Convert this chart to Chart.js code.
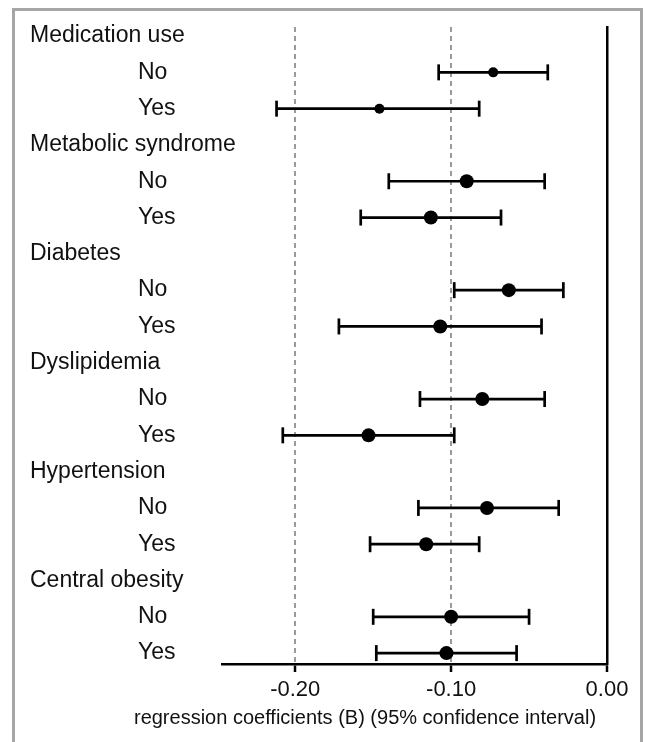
<!DOCTYPE html>
<html>
<head>
<meta charset="utf-8">
<script src="https://cdn.jsdelivr.net/npm/chart.js@4"></script>
<style>
  body { margin: 0; background: #fff; }
  #frame { position: absolute; left: 12px; top: 8px; width: 625px; height: 760px; border: 3px solid #a6a6a6; }
  #forest { position: absolute; left: 0; top: 0; }
</style>
</head>
<body>
<div id="frame"></div>
<canvas id="forest" width="647" height="742"></canvas>
<script>
// subgroups, top to bottom
const groups = ['Medication use', 'Metabolic syndrome', 'Diabetes', 'Dyslipidemia', 'Hypertension', 'Central obesity'];
const levels = ['No', 'Yes'];
// regression coefficients (B), one per group x level, in the same order
const coef   = [-0.073, -0.146, -0.090, -0.113, -0.063, -0.107, -0.080, -0.153, -0.077, -0.116, -0.100, -0.103];
const ciLow  = [-0.108, -0.212, -0.140, -0.158, -0.098, -0.172, -0.120, -0.208, -0.121, -0.152, -0.150, -0.148];
const ciHigh = [-0.038, -0.082, -0.040, -0.068, -0.028, -0.042, -0.040, -0.098, -0.031, -0.082, -0.050, -0.058];
const xTicks = [-0.20, -0.10, 0.00];
const xTitle = 'regression coefficients (B) (95% confidence interval)';

// every group takes one header row plus one row per level
const rowLabels = [];
groups.forEach(g => { rowLabels.push(g); levels.forEach(l => rowLabels.push(l)); });
const rowOf = i => Math.floor(i / levels.length) * (levels.length + 1) + 1 + (i % levels.length);

const dots = coef.map((v, i) => ({ x: v, y: rowOf(i) }));
const ciPts = [];
coef.forEach((v, i) => {
    ciPts.push({ x: ciLow[i], y: rowOf(i) }, { x: ciHigh[i], y: rowOf(i) }, { x: null, y: null });
});

const FONT = "'Liberation Sans', Arial, sans-serif";

const labelPlugin = {
    id: 'rowLabels',
    afterDraw(chart) {
        const ctx = chart.ctx, y = chart.scales.y;
        ctx.save();
        ctx.fillStyle = '#111';
        ctx.textBaseline = 'middle';
        ctx.textAlign = 'left';
        ctx.font = '23px ' + FONT;
        rowLabels.forEach((t, r) => {
            const header = r % (levels.length + 1) === 0;
            ctx.fillText(t, header ? 30 : 138, y.getPixelForValue(r));
        });
        ctx.textAlign = 'center';
        ctx.font = '20px ' + FONT;
        ctx.fillText(xTitle, 365, 718);
        ctx.restore();
    }
};

new Chart(document.getElementById('forest'), {
    type: 'scatter',
    data: {
        datasets: [{
            data: dots,
            pointRadius: c => (c.dataIndex < levels.length ? 5 : 7),
            pointBackgroundColor: '#000',
            pointBorderWidth: 0
        }, {
            data: ciPts,
            showLine: true,
            spanGaps: false,
            borderColor: '#000',
            borderWidth: 2.7,
            pointStyle: 'line',
            rotation: 90,
            pointRadius: 8,
            pointBorderColor: '#000',
            pointBorderWidth: 2.7
        }]
    },
    options: {
        responsive: false,
        animation: false,
        layout: { padding: { left: 222, right: 40, top: 27, bottom: 0 } },
        plugins: { legend: { display: false }, tooltip: { enabled: false } },
        scales: {
            x: {
                type: 'linear',
                min: -0.247,
                max: 0,
                afterBuildTicks: s => { s.ticks = xTicks.map(v => ({ value: v })); },
                afterFit: s => { s.height = 78; },
                ticks: {
                    padding: 5,
                    color: '#111',
                    font: { size: 22, family: FONT },
                    callback: v => v.toFixed(2)
                },
                grid: {
                    color: c => (c.tick && c.tick.value === 0 ? 'rgba(0,0,0,0)' : '#9a9a9a'),
                    lineWidth: 2,
                    tickColor: '#000',
                    tickLength: 8,
                    tickWidth: 2.5
                },
                border: { display: true, color: '#000', width: 2.5, dash: [5, 4] }
            },
            y: {
                type: 'linear',
                position: 'right',
                reverse: true,
                min: -0.25,
                max: 17.3,
                afterFit: s => { s.width = 0; },
                ticks: { display: false },
                grid: { display: false },
                border: { display: true, color: '#000', width: 2.5 }
            }
        }
    },
    plugins: [labelPlugin]
});
</script>
</body>
</html>
